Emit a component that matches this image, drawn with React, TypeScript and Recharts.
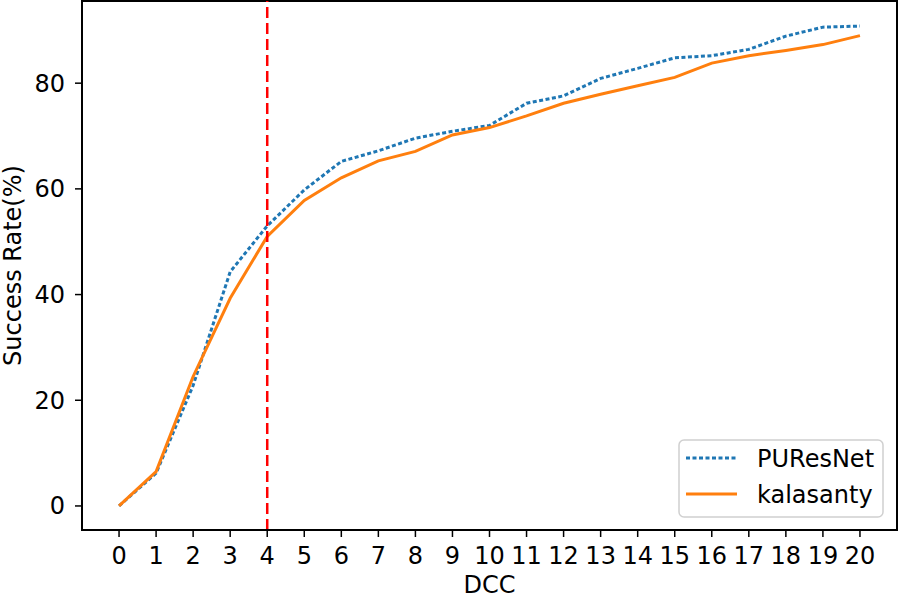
import {
  LineChart,
  Line,
  XAxis,
  YAxis,
  ReferenceLine,
  ReferenceArea,
  Legend,
  Label,
} from "recharts";

// DCC threshold on the x axis, success rate (%) per method
const dcc = [0, 1, 2, 3, 4, 5, 6, 7, 8, 9, 10, 11, 12, 13, 14, 15, 16, 17, 18, 19, 20];
const puresnet = [0, 6.2, 22.8, 44.3, 53.0, 59.8, 65.2, 67.2, 69.6, 70.9, 72.0, 76.2, 77.6, 80.9, 82.8, 84.8, 85.2, 86.4, 88.9, 90.6, 90.8];
const kalasanty = [0, 6.5, 24.5, 39.3, 51.0, 57.8, 62.1, 65.3, 67.1, 70.2, 71.6, 73.8, 76.2, 77.9, 79.5, 81.1, 83.8, 85.2, 86.2, 87.3, 89.0];
const yTicks = [0, 20, 40, 60, 80];
const cutoff = 4;

const FONT = "'DejaVu Sans', sans-serif";
const BLUE = "#1f77b4";
const ORANGE = "#ff7f0e";

const data = dcc.map((d, i) => ({ dcc: d, PUResNet: puresnet[i], kalasanty: kalasanty[i] }));

const tickStyle = { fontSize: 24, fill: "#000", fontFamily: FONT };

function LegendBox(props: any) {
  const items = props.payload ?? [];
  return (
    <svg width={206} height={79} style={{ display: "block" }}>
      <rect x={1} y={1} width={204} height={77} rx={5} fill="rgba(255,255,255,0.8)" stroke="#d0d0d0" strokeWidth={1.5} />
      {items.map((it: any, i: number) => (
        <g key={it.value}>
          <line
            x1={8}
            x2={59}
            y1={19 + i * 36}
            y2={19 + i * 36}
            stroke={it.color}
            strokeWidth={3}
            strokeDasharray={it.value === "PUResNet" ? "4 2.5" : undefined}
          />
          <text x={79} y={28 + i * 36} fontSize={24} fontFamily={FONT} fill="#000">
            {it.value}
          </text>
        </g>
      ))}
    </svg>
  );
}

export default function App() {
  return (
    <div style={{ position: "absolute", left: 0, top: 0, background: "#fff" }}>
      <LineChart width={898} height={599} data={data} margin={{ top: 1, right: 1, left: 0, bottom: 0 }}>
        <XAxis
          dataKey="dcc"
          type="number"
          domain={[-1, 21]}
          ticks={dcc}
          interval={0}
          height={69}
          tick={tickStyle}
          tickSize={7}
          tickMargin={10}
          stroke="#000"
          strokeWidth={2}
          tickLine={{ stroke: "#000", strokeWidth: 1.5 }}
        >
          <Label
            content={({ viewBox }: any) => (
              <text
                x={viewBox.x + viewBox.width / 2}
                y={593}
                textAnchor="middle"
                fontSize={24}
                fontFamily={FONT}
                fill="#000"
              >
                DCC
              </text>
            )}
          />
        </XAxis>
        <YAxis
          type="number"
          domain={[-4.55, 95.55]}
          ticks={yTicks}
          width={82}
          tick={tickStyle}
          tickSize={7}
          tickMargin={10}
          stroke="#000"
          strokeWidth={2}
          tickLine={{ stroke: "#000", strokeWidth: 1.5 }}
        >
          <Label
            content={({ viewBox }: any) => {
              const cy = viewBox.y + viewBox.height / 2;
              return (
                <text
                  x={21}
                  y={cy}
                  transform={`rotate(-90, 21, ${cy})`}
                  textAnchor="middle"
                  fontSize={24}
                  fontFamily={FONT}
                  fill="#000"
                >
                  Success Rate(%)
                </text>
              );
            }}
          />
        </YAxis>
        <ReferenceArea
          x1={-1}
          x2={21}
          y1={-4.55}
          y2={95.55}
          fill="none"
          stroke="#000"
          strokeWidth={2}
          ifOverflow="extendDomain"
        />
        <Line
          dataKey="PUResNet"
          stroke={BLUE}
          strokeWidth={3}
          strokeDasharray="4 2.5"
          dot={false}
          type="linear"
          isAnimationActive={false}
        />
        <Line
          dataKey="kalasanty"
          stroke={ORANGE}
          strokeWidth={3}
          dot={false}
          type="linear"
          isAnimationActive={false}
        />
        <ReferenceLine x={cutoff} stroke="#ff0000" strokeWidth={2.5} strokeDasharray="11 5" />
        <Legend
          layout="horizontal"
          verticalAlign="middle"
          align="center"
          content={LegendBox}
          wrapperStyle={{ left: 678, top: 439, width: 206, height: 79 }}
        />
      </LineChart>
    </div>
  );
}
